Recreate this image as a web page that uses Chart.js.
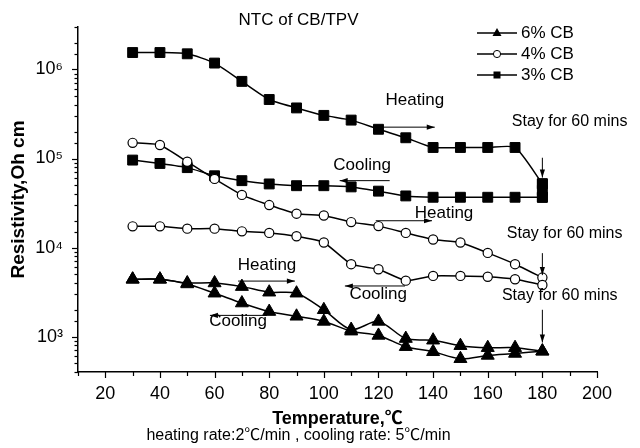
<!DOCTYPE html>
<html>
<head>
<meta charset="utf-8">
<script src="https://cdn.jsdelivr.net/npm/chart.js@4.4.1/dist/chart.umd.min.js"></script>
<style>
html,body{margin:0;padding:0;background:#ffffff;}
#wrap{width:640px;height:448px;}
</style>
</head>
<body>
<div id="wrap"><canvas id="c" width="640" height="448"></canvas></div>
<script>
// ---- data ----
const heatTemps = [30,40,50,60,70,80,90,100,110,120,130,140,150,160,170,180];
const coolTemps = [180,170,160,150,140,130,120,110,100,90,80,70,60,50,40,30];
const holdTemps = [180,180,180];

const cb6Heating = [4400,4400,4000,4000,3640,3150,3070,2000,1200,1480,950,910,790,750,750,685];
const cb6Cooling = [685,646,614,564,675,770,1030,1150,1480,1690,1910,2380,3070,3900,4400,4400];

const cb4Heating = [17300,17300,16300,16300,15200,14600,13400,11400,6500,5700,4250,4800,4800,4700,4400,3800];
const cb4Cooling = [4600,6500,8700,11400,12300,14600,17400,19300,22900,24000,30000,39000,59000,92000,142000,150000];

const cb3Heating = [1550000,1550000,1500000,1180000,735000,460000,370000,305000,270000,213000,171000,133000,133000,133000,133000,52000];
const cb3Hold    = [52000,44000,36700];
const cb3Cooling = [36700,36700,36700,36700,36700,38000,43000,48000,49500,49500,51800,56400,64000,79000,88000,96000];

const legendLabels = ['6% CB','4% CB','3% CB'];
const xTickLabelsEvery = 20;
const superDigits = {'0':'⁰','1':'¹','2':'²','3':'³','4':'⁴','5':'⁵','6':'⁶','7':'⁷','8':'⁸','9':'⁹'};

// annotation texts (text, temperature, resistivity, alignment, font size)
const noteTexts = [
  ['Heating', 133.3, 4.5e5, 'center', 17],
  ['Stay for 60 mins', 168.8, 2.57e5, 'left', 16],
  ['Cooling', 114, 8.3e4, 'center', 17],
  ['Heating', 144, 2.41e4, 'center', 17],
  ['Stay for 60 mins', 167, 1.44e4, 'left', 16],
  ['Cooling', 119.9, 3.0e3, 'center', 17],
  ['Stay for 60 mins', 165.2, 2.85e3, 'left', 16],
  ['Heating', 79.2, 6.36e3, 'center', 17],
  ['Cooling', 68.6, 1.47e3, 'center', 17]
];
// arrows: from (t1,r1) to (t2,r2), head at the end
const noteArrows = [
  [119.4, 2.25e5, 140.6, 2.25e5],
  [180, 1.02e5, 180, 6.1e4],
  [124.1, 5.64e4, 105.8, 5.64e4],
  [119, 2.0e4, 139.6, 2.0e4],
  [180, 8.65e3, 180, 4.9e3],
  [129.7, 3.7e3, 107.7, 3.7e3],
  [180, 2.0e3, 180, 857],
  [68.6, 4.2e3, 89.4, 4.2e3],
  [79.2, 1.73e3, 58.3, 1.73e3]
];

const FONT = '"Liberation Sans", Arial, "Noto Sans CJK SC", sans-serif';

function pts(xs, ys){ return xs.map((x,i)=>({x:x, y:ys[i]})); }

const triStyle = {pointStyle:'triangle', pointRadius:7.5, pointHoverRadius:7.5, pointBackgroundColor:'#000', pointBorderColor:'#000', pointBorderWidth:1, tension:0.3};
const cirStyle = {pointStyle:'circle', pointRadius:4.6, pointHoverRadius:4.6, pointBackgroundColor:'#fff', pointBorderColor:'#000', pointBorderWidth:1.2, tension:0.15};
const sqStyle  = {pointStyle:'rect', pointRadius:7, pointHoverRadius:7, pointBackgroundColor:'#000', pointBorderColor:'#000', pointBorderWidth:1, tension:0.2};

function ds(label, data, style){
  return Object.assign({label:label, data:data, borderColor:'#000', borderWidth:1.5, fill:false, showLine:true}, style);
}

const datasets = [
  ds('6% CB heating', pts(heatTemps, cb6Heating), triStyle),
  ds('6% CB cooling', pts(coolTemps, cb6Cooling), triStyle),
  ds('4% CB heating', pts(heatTemps, cb4Heating), cirStyle),
  ds('4% CB cooling', pts(coolTemps, cb4Cooling), cirStyle),
  ds('3% CB heating', pts(heatTemps, cb3Heating).concat(pts(holdTemps, cb3Hold)), sqStyle),
  ds('3% CB cooling', pts(coolTemps, cb3Cooling), sqStyle)
];

function isDecade(v){ const l = Math.log10(v); return Math.abs(l - Math.round(l)) < 1e-9; }

const tickMarks = {
  id:'tickMarks',
  afterDraw(chart){
    const {ctx, scales:{x, y}} = chart;
    ctx.save();
    ctx.strokeStyle = '#000';
    ctx.lineWidth = 1.2;
    x.ticks.forEach(t=>{
      const px = Math.round(x.getPixelForValue(t.value)) + 0.5;
      const len = (t.value % xTickLabelsEvery === 0) ? 6 : 4;
      ctx.beginPath(); ctx.moveTo(px, x.top); ctx.lineTo(px, x.top + len); ctx.stroke();
    });
    y.ticks.forEach(t=>{
      const py = Math.round(y.getPixelForValue(t.value)) + 0.5;
      const len = isDecade(t.value) ? 6 : 3.5;
      ctx.beginPath(); ctx.moveTo(y.right, py); ctx.lineTo(y.right - len, py); ctx.stroke();
    });
    ctx.restore();
  }
};

function drawArrow(ctx, x1, y1, x2, y2){
  ctx.beginPath(); ctx.moveTo(x1, y1); ctx.lineTo(x2, y2); ctx.stroke();
  const a = Math.atan2(y2 - y1, x2 - x1), L = 8, W = 2.6;
  ctx.beginPath();
  ctx.moveTo(x2, y2);
  ctx.lineTo(x2 - L*Math.cos(a) + W*Math.sin(a), y2 - L*Math.sin(a) - W*Math.cos(a));
  ctx.lineTo(x2 - L*Math.cos(a) - W*Math.sin(a), y2 - L*Math.sin(a) + W*Math.cos(a));
  ctx.closePath(); ctx.fill();
}

const notes = {
  id:'notes',
  afterDatasetsDraw(chart){
    const {ctx, scales:{x, y}} = chart;
    ctx.save();
    ctx.fillStyle = '#000'; ctx.strokeStyle = '#000'; ctx.lineWidth = 1;
    ctx.textBaseline = 'middle';
    noteTexts.forEach(n=>{
      ctx.font = n[4] + 'px ' + FONT;
      ctx.textAlign = n[3];
      ctx.fillText(n[0], x.getPixelForValue(n[1]), y.getPixelForValue(n[2]));
    });
    noteArrows.forEach(a=>{
      drawArrow(ctx, x.getPixelForValue(a[0]), y.getPixelForValue(a[1]), x.getPixelForValue(a[2]), y.getPixelForValue(a[3]));
    });
    ctx.restore();
  }
};

const legendBox = {
  id:'legendBox',
  afterDraw(chart){
    const ctx = chart.ctx;
    ctx.save();
    ctx.strokeStyle = '#000'; ctx.fillStyle = '#000'; ctx.lineWidth = 1.5;
    legendLabels.forEach((lab, i)=>{
      const yy = 33 + i*21, x0 = 477, x1 = 517, xm = 497;
      ctx.beginPath(); ctx.moveTo(x0, yy); ctx.lineTo(x1, yy); ctx.stroke();
      if (i === 0){
        ctx.beginPath(); ctx.moveTo(xm, yy - 5); ctx.lineTo(xm + 4.5, yy + 3); ctx.lineTo(xm - 4.5, yy + 3); ctx.closePath(); ctx.fill();
      } else if (i === 1){
        ctx.beginPath(); ctx.arc(xm, yy, 3.6, 0, Math.PI*2); ctx.fillStyle = '#fff'; ctx.fill();
        ctx.lineWidth = 1; ctx.stroke(); ctx.lineWidth = 1.5; ctx.fillStyle = '#000';
      } else {
        ctx.fillRect(xm - 3.5, yy - 3.5, 7, 7);
      }
      ctx.font = '17px ' + FONT;
      ctx.textAlign = 'left'; ctx.textBaseline = 'middle';
      ctx.fillText(lab, 521, yy);
    });
    ctx.restore();
  }
};

new Chart(document.getElementById('c'), {
  type:'scatter',
  data:{datasets:datasets},
  options:{
    responsive:false,
    animation:false,
    devicePixelRatio:1,
    layout:{padding:{left:0, right:43, top:0, bottom:0}},
    plugins:{
      legend:{display:false},
      tooltip:{enabled:false},
      title:{display:true, text:'NTC of CB/TPV', color:'#000',
        font:{family:FONT, size:17, weight:'normal', lineHeight:1.2},
        padding:{top:10, bottom:-3.4}},
      subtitle:{display:true, position:'bottom', text:'heating rate:2℃/min , cooling rate: 5℃/min', color:'#000',
        font:{family:FONT, size:16, weight:'normal', lineHeight:1},
        padding:{top:0, bottom:4}}
    },
    scales:{
      x:{
        type:'linear', min:10, max:200,
        grid:{display:false, drawTicks:false},
        border:{display:true, color:'#000', width:1.5},
        ticks:{stepSize:10, autoSkip:false, maxRotation:0, color:'#000', padding:11,
          font:{family:FONT, size:18},
          callback:(v)=> (v % xTickLabelsEvery === 0 ? String(v) : '')},
        title:{display:true, text:'Temperature,℃', color:'#000',
          font:{family:FONT, size:18, weight:'bold', lineHeight:1},
          padding:{top:0, bottom:0}},
        afterFit:(s)=>{ s.height = 56; }
      },
      y:{
        type:'logarithmic', min:400, max:3000000,
        grid:{display:false, drawTicks:false},
        border:{display:true, color:'#000', width:1.5},
        ticks:{autoSkip:false, color:'#000', padding:15,
          font:{family:FONT, size:18},
          callback:(v)=>{
            if (!isDecade(v)) return '';
            const e = String(Math.round(Math.log10(v)));
            return '10' + e.split('').map(d=>superDigits[d]).join('');
          }},
        title:{display:true, text:'Resistivity,Oh cm', color:'#000',
          font:{family:FONT, size:19, weight:'bold', lineHeight:1.2},
          padding:{top:7, bottom:0}},
        afterFit:(s)=>{ s.width = 78; }
      }
    }
  },
  plugins:[tickMarks, notes, legendBox]
});
</script>
</body>
</html>
